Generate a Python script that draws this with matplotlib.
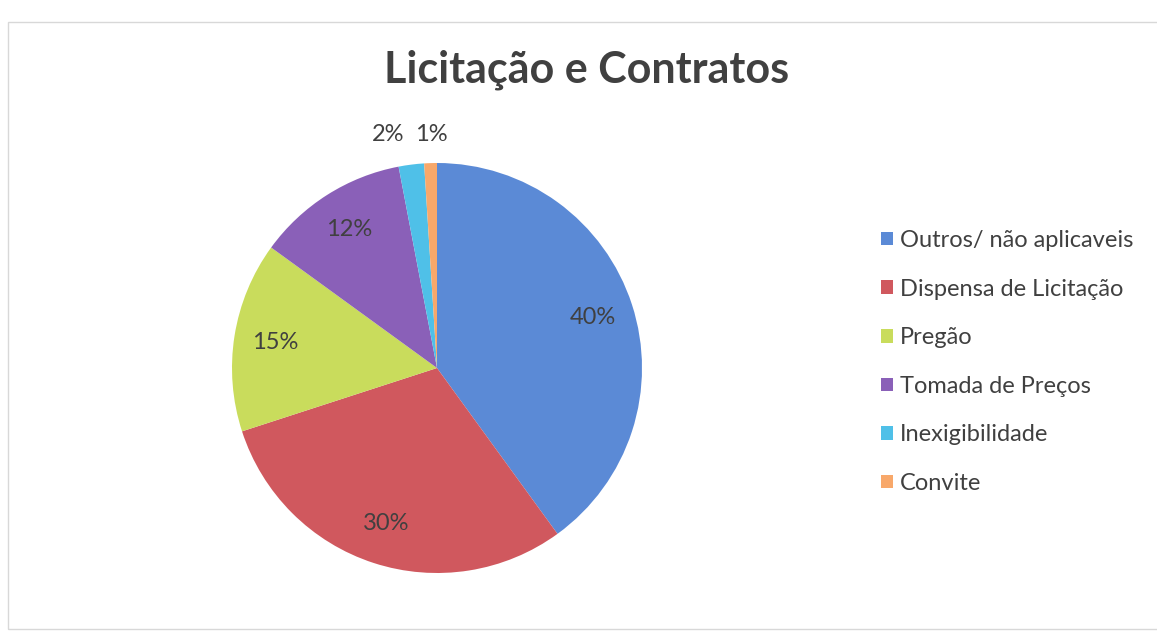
import matplotlib.pyplot as plt
from matplotlib.patches import Patch, Rectangle

categories = ['Outros/ não aplicaveis', 'Dispensa de Licitação', 'Pregão',
              'Tomada de Preços', 'Inexigibilidade', 'Convite']
values = [40, 30, 15, 12, 2, 1]
colors = ['#5b8ad6', '#d0585e', '#c9dc5c', '#8a60b8', '#4fc0e8', '#f8a86a']

plt.rcParams['font.family'] = ['Lato', 'DejaVu Sans']
txt = '#404040'

fig = plt.figure(figsize=(11.57, 6.31), dpi=100)
W, H = 1157, 631
cx, cy, r = 437, 631 - 368, 205
ax = fig.add_axes([(cx - r) / W, (cy - r) / H, 2 * r / W, 2 * r / H])

wedges, texts, autotexts = ax.pie(values, colors=colors, startangle=90, counterclock=False,
                                  autopct='%1.0f%%', pctdistance=0.8, radius=1,
                                  wedgeprops=dict(linewidth=0),
                                  textprops=dict(color=txt, fontsize=17))
ax.set_xlim(-1, 1)
ax.set_ylim(-1, 1)
ax.set_aspect('equal')

# the two small slices get their labels above the pie
autotexts[4].set_position((-0.24, 1.14))
autotexts[5].set_position((-0.03, 1.14))

fig.text(0.507, 1 - 70 / H, 'Licitação e Contratos', ha='center', va='center',
         fontsize=31, fontweight='bold', color=txt)

handles = [Patch(facecolor=c, edgecolor='none') for c in colors]
fig.legend(handles, categories, loc='center left', bbox_to_anchor=(869 / W, 1 - 362 / H),
           frameon=False, fontsize=17, labelcolor=txt, handlelength=0.5, handleheight=0.5,
           handletextpad=0.3, labelspacing=1.17, borderpad=0)

# faint frame from the scanned chart area
fig.add_artist(Rectangle((8 / W, 2 / H), 1.2, 1 - 24 / H, transform=fig.transFigure,
                         fill=False, edgecolor='#d8d8d8', linewidth=1))

fig.savefig('out.png', dpi=100)
